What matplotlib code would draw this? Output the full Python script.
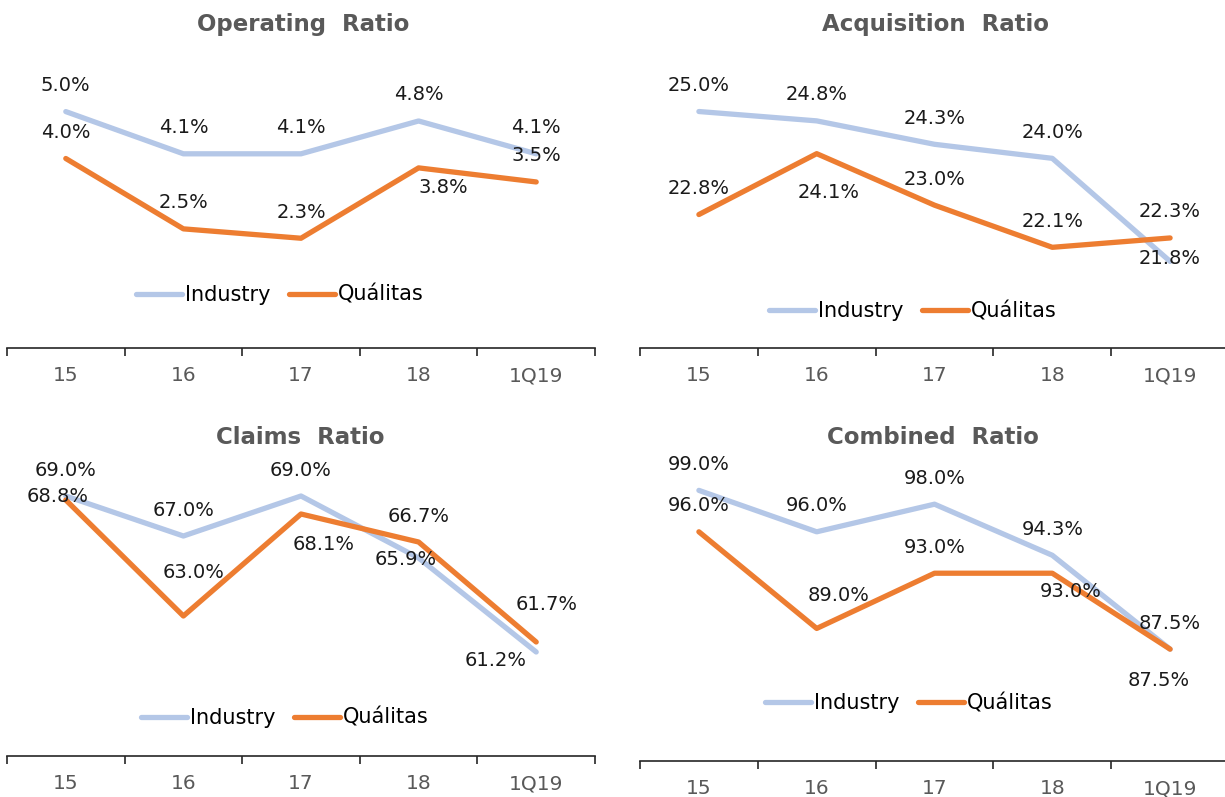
"""Four-panel ratio comparison: Industry vs. Quálitas (15 - 1Q19)."""

import matplotlib

matplotlib.use("Agg")
import matplotlib.pyplot as plt

# ---- data -------------------------------------------------------------
periods = ["15", "16", "17", "18", "1Q19"]

operating_industry = [5.0, 4.1, 4.1, 4.8, 4.1]
operating_qualitas = [4.0, 2.5, 2.3, 3.8, 3.5]

acquisition_industry = [25.0, 24.8, 24.3, 24.0, 21.8]
acquisition_qualitas = [22.8, 24.1, 23.0, 22.1, 22.3]

claims_industry = [69.0, 67.0, 69.0, 65.9, 61.2]
claims_qualitas = [68.8, 63.0, 68.1, 66.7, 61.7]

combined_industry = [99.0, 96.0, 98.0, 94.3, 87.5]
combined_qualitas = [96.0, 89.0, 93.0, 93.0, 87.5]

series_names = ["Industry", "Quálitas"]
titles = ["Operating  Ratio", "Acquisition  Ratio", "Claims  Ratio", "Combined  Ratio"]

# ---- style ------------------------------------------------------------
W, H = 1225, 797
IND_COLOR = "#B4C7E7"
QUA_COLOR = "#ED7D31"
GREY = "#595959"
plt.rcParams["font.family"] = ["DejaVu Sans"]

ABOVE = (0, 26)
# label offsets in pixels (dx, dy up) per panel: (industry, qualitas)
label_offsets = [
    ([ABOVE] * 5,
     [ABOVE, ABOVE, ABOVE, (25, -20), ABOVE]),
    ([ABOVE, ABOVE, ABOVE, ABOVE, (0, 3)],
     [ABOVE, (12, -39), ABOVE, ABOVE, ABOVE]),
    ([ABOVE, ABOVE, ABOVE, (-13, -2), (-41, -8)],
     [(-8, 3), (10, 43), (23, -31), ABOVE, (10, 37)]),
    ([ABOVE] * 5,
     [ABOVE, (22, 33), ABOVE, (18, -18), (-11, -31)]),
]

# panel boxes in pixels: left, right, top, bottom (bottom = axis line)
panel_boxes = [(7, 595, 60, 348), (640, 1229, 60, 348),
               (7, 595, 460, 756), (640, 1229, 460, 761)]
ylims = [(-0.04, 6.1), (19.95, 26.1), (56.0, 70.8), (79.4, 101.2)]
title_pos = [(303, 25), (935, 25), (300, 437), (933, 437)]
legend_pos = [(280, 295), (913, 311), (285, 718), (909, 703)]

panels = [
    (operating_industry, operating_qualitas),
    (acquisition_industry, acquisition_qualitas),
    (claims_industry, claims_qualitas),
    (combined_industry, combined_qualitas),
]

fig = plt.figure(figsize=(W / 100, H / 100), dpi=100)

for i, (ind, qua) in enumerate(panels):
    left, right, top, bottom = panel_boxes[i]
    ax = fig.add_axes([left / W, 1 - bottom / H, (right - left) / W, (bottom - top) / H])
    x = range(len(periods))
    for values, color, name, offs in zip(
        (ind, qua), (IND_COLOR, QUA_COLOR), series_names, label_offsets[i]
    ):
        ax.plot(x, values, color=color, linewidth=3.8, label=name,
                solid_capstyle="round", solid_joinstyle="round")
        for xi, v, (dx, dy) in zip(x, values, offs):
            ax.annotate(f"{v:.1f}%", (xi, v), xytext=(dx, dy),
                        textcoords="offset pixels", ha="center", va="center",
                        fontsize=14, color="#1a1a1a")

    ax.set_xlim(-0.5, len(periods) - 0.5)
    ax.set_ylim(*ylims[i])
    for side in ("left", "right", "top"):
        ax.spines[side].set_visible(False)
    ax.spines["bottom"].set_color("#262626")
    ax.spines["bottom"].set_linewidth(1.2)
    ax.set_yticks([])
    ax.set_xticks(list(x))
    ax.set_xticklabels(periods, fontsize=14.5, color=GREY)
    ax.tick_params(axis="x", which="major", length=0, pad=13)
    ax.set_xticks([k - 0.5 for k in range(len(periods) + 1)], minor=True)
    ax.tick_params(axis="x", which="minor", length=6, width=1.2, color="#262626")

    tx, ty = title_pos[i]
    fig.text(tx / W, 1 - ty / H, titles[i], ha="center", va="center",
             fontsize=16.5, fontweight="bold", color=GREY)

    lx, ly = legend_pos[i]
    ax.legend(loc="center", bbox_to_anchor=(lx / W, 1 - ly / H),
              bbox_transform=fig.transFigure, ncol=2, frameon=False,
              fontsize=15, handlelength=2.2, handletextpad=0.15,
              columnspacing=0.9, borderpad=0)

fig.savefig("out.png", dpi=100)
plt.close(fig)
